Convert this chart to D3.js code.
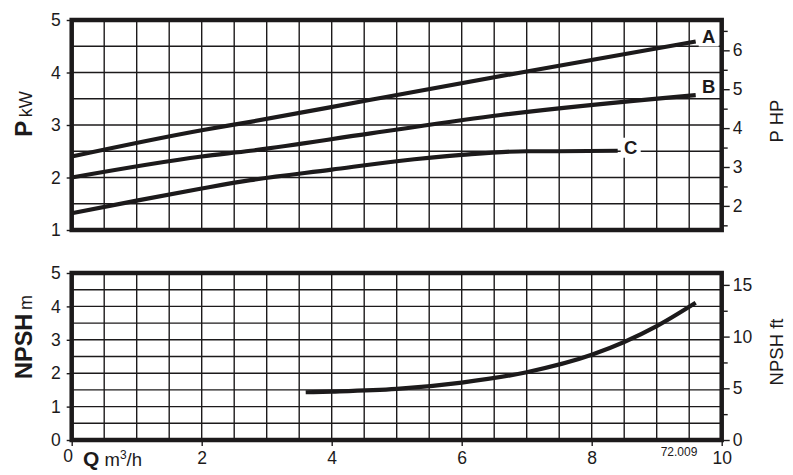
<!DOCTYPE html>
<html>
<head>
<meta charset="utf-8">
<script src="https://cdn.jsdelivr.net/npm/d3@7"></script>
<style>
  html, body { margin: 0; padding: 0; background: #fff; }
  svg { display: block; font-family: "Liberation Sans", Arial, sans-serif; }
</style>
</head>
<body>
<svg id="chart" width="793" height="475"></svg>
<script>
// ---------- data ----------
const qTicks = [0, 2, 4, 6, 8, 10];
const kwTicks = [1, 2, 3, 4, 5];
const hpTicks = [2, 3, 4, 5, 6];
const hpMinorTicks = [1.5, 2.5, 3.5, 4.5, 5.5, 6.5];
const npshTicks = [0, 1, 2, 3, 4, 5];
const ftTicks = [0, 5, 10, 15];
const ftMinorTicks = [2.5, 7.5, 12.5];

const curveA_Q = [0, 2, 2.75, 4.6, 7, 9.6];
const curveA_P = [2.40, 2.90, 3.06, 3.48, 4.02, 4.59];
const curveB_Q = [0, 2, 2.75, 4.6, 6.6, 9.6];
const curveB_P = [2.00, 2.40, 2.51, 2.84, 3.19, 3.57];
const curveC_Q = [0, 1, 2, 2.75, 4, 5, 6, 7, 7.5, 8.4];
const curveC_P = [1.32, 1.56, 1.79, 1.95, 2.15, 2.31, 2.43, 2.50, 2.50, 2.51];
const npsh_Q = [3.6, 4, 5, 6, 7, 8, 9, 9.6];
const npsh_M = [1.43, 1.45, 1.53, 1.72, 2.03, 2.55, 3.41, 4.11];
const curveLabels = ["A", "B", "C"];

// ---------- layout ----------
const svg = d3.select("#chart");
const ink = "#1c1a1b";
const X0 = 71.7, X1 = 721.7;
const panelP = { y0: 20, y1: 230 };
const panelN = { y0: 273, y1: 440 };

const x = d3.scaleLinear().domain([0, 10]).range([X0, X1]);
const yP = d3.scaleLinear().domain([1, 5]).range([panelP.y1, panelP.y0]);
const yHP = d3.scaleLinear().domain([1.38, 6.78]).range([panelP.y1, panelP.y0]);
const yN = d3.scaleLinear().domain([0, 5]).range([panelN.y1, panelN.y0]);
const yFt = d3.scaleLinear().domain([0, 16.15]).range([panelN.y1, panelN.y0]);

const gridQ = d3.range(0.5, 10, 0.5);

function drawGrid(yScale, yMin, yMax) {
  const g = svg.append("g").attr("stroke", ink).attr("stroke-width", 1.4);
  g.selectAll("line.v").data(gridQ).enter().append("line")
    .attr("x1", d => x(d)).attr("x2", d => x(d))
    .attr("y1", yScale.range()[0]).attr("y2", yScale.range()[1]);
  g.selectAll("line.h").data(d3.range(yMin + 0.5, yMax, 0.5)).enter().append("line")
    .attr("x1", X0).attr("x2", X1)
    .attr("y1", d => yScale(d)).attr("y2", d => yScale(d));
}
drawGrid(yP, 1, 5);
drawGrid(yN, 0, 5);

// ---------- curves ----------
const lineP = d3.line().x(d => x(d[0])).y(d => yP(d[1])).curve(d3.curveMonotoneX);
const lineN = d3.line().x(d => x(d[0])).y(d => yN(d[1])).curve(d3.curveMonotoneX);
const seriesP = [
  d3.zip(curveA_Q, curveA_P),
  d3.zip(curveB_Q, curveB_P),
  d3.zip(curveC_Q, curveC_P)
];
svg.append("g").selectAll("path").data(seriesP).enter().append("path")
  .attr("d", lineP).attr("fill", "none").attr("stroke", ink).attr("stroke-width", 4.2);
svg.append("path").attr("d", lineN(d3.zip(npsh_Q, npsh_M)))
  .attr("fill", "none").attr("stroke", ink).attr("stroke-width", 4.2);

// ---------- axes ----------
function axisStyle(g) {
  g.select(".domain").remove();
  g.selectAll(".tick line").attr("stroke", ink).attr("stroke-width", 1.4);
  g.selectAll(".tick text").attr("fill", ink).attr("font-size", 17.5)
    .attr("font-family", "'Liberation Sans', Arial, sans-serif");
}
svg.append("g").attr("transform", `translate(${X0},0)`)
  .call(d3.axisLeft(yP).tickValues(kwTicks).tickFormat(d3.format("d")).tickSizeOuter(0).tickSize(5).tickPadding(6))
  .call(axisStyle);
svg.append("g").attr("transform", `translate(${X0},0)`)
  .call(d3.axisLeft(yN).tickValues(npshTicks).tickFormat(d3.format("d")).tickSizeOuter(0).tickSize(5).tickPadding(6))
  .call(axisStyle);
svg.append("g").attr("transform", `translate(${X1},0)`)
  .call(d3.axisRight(yHP).tickValues(hpTicks).tickFormat(d3.format("d")).tickSizeOuter(0).tickSize(8).tickPadding(3))
  .call(axisStyle);
svg.append("g").attr("transform", `translate(${X1},0)`)
  .call(d3.axisRight(yHP).tickValues(hpMinorTicks).tickFormat("").tickSizeOuter(0).tickSize(6))
  .call(axisStyle);
svg.append("g").attr("transform", `translate(${X1},0)`)
  .call(d3.axisRight(yFt).tickValues(ftTicks).tickFormat(d3.format("d")).tickSizeOuter(0).tickSize(8).tickPadding(3))
  .call(axisStyle);
svg.append("g").attr("transform", `translate(${X1},0)`)
  .call(d3.axisRight(yFt).tickValues(ftMinorTicks).tickFormat("").tickSizeOuter(0).tickSize(6))
  .call(axisStyle);
const xAx = svg.append("g").attr("transform", `translate(0,${panelN.y1})`)
  .call(d3.axisBottom(x).tickValues(qTicks).tickFormat(d3.format("d")).tickSizeOuter(0).tickSize(6).tickPadding(6))
  .call(axisStyle);
xAx.selectAll(".tick text").filter(d => d === 0).attr("dx", -4).attr("dy", "0.55em");

// ---------- frames ----------
[[panelP.y0, panelP.y1], [panelN.y0, panelN.y1]].forEach(([a, b]) => {
  svg.append("rect").attr("x", X0).attr("y", a).attr("width", X1 - X0).attr("height", b - a)
    .attr("fill", "none").attr("stroke", ink).attr("stroke-width", 4.5);
});

// ---------- curve labels ----------
const labelPos = [
  [curveA_Q[curveA_Q.length - 1], curveA_P[curveA_P.length - 1]],
  [curveB_Q[curveB_Q.length - 1], curveB_P[curveB_P.length - 1]],
  [curveC_Q[curveC_Q.length - 1], curveC_P[curveC_P.length - 1]]
];
const labelDy = [-5, -8.5, -3];
curveLabels.forEach((t, i) => {
  const cx = x(labelPos[i][0]) + 13, cy = yP(labelPos[i][1]) + labelDy[i];
  svg.append("rect").attr("x", cx - 10).attr("y", cy - 10).attr("width", 20).attr("height", 20).attr("fill", "#fff");
  svg.append("text").attr("x", cx).attr("y", cy + 6.5).attr("text-anchor", "middle")
    .attr("font-weight", "bold").attr("font-size", 18.5).attr("fill", ink).text(t);
});

// ---------- titles ----------
function vtitle(cx, cy, parts) {
  const t = svg.append("text").attr("transform", `translate(${cx},${cy}) rotate(-90)`)
    .attr("text-anchor", "middle").attr("fill", ink);
  parts.forEach(p => t.append("tspan").attr("font-size", p[1]).attr("font-weight", p[2]).text(p[0]));
}
vtitle(32, 114, [["P", 24, "bold"], ["\u2009kW", 18, "normal"]]);
vtitle(32, 337, [["NPSH", 23.5, "bold"], ["\u2009m", 18, "normal"]]);
vtitle(783, 121, [["P HP", 18.5, "normal"]]);
vtitle(783, 352, [["NPSH ft", 18.5, "normal"]]);

const q = svg.append("text").attr("x", 83).attr("y", 466).attr("fill", ink);
q.append("tspan").attr("font-weight", "bold").attr("font-size", 21).text("Q");
q.append("tspan").attr("font-size", 18.5).text(" m");
q.append("tspan").attr("font-size", 12).attr("dy", -7).text("3");
q.append("tspan").attr("font-size", 18.5).attr("dy", 7).text("/h");

svg.append("text").attr("x", 679).attr("y", 456).attr("text-anchor", "middle")
  .attr("font-size", 12).attr("fill", ink).text("72.009");
</script>
</body>
</html>
